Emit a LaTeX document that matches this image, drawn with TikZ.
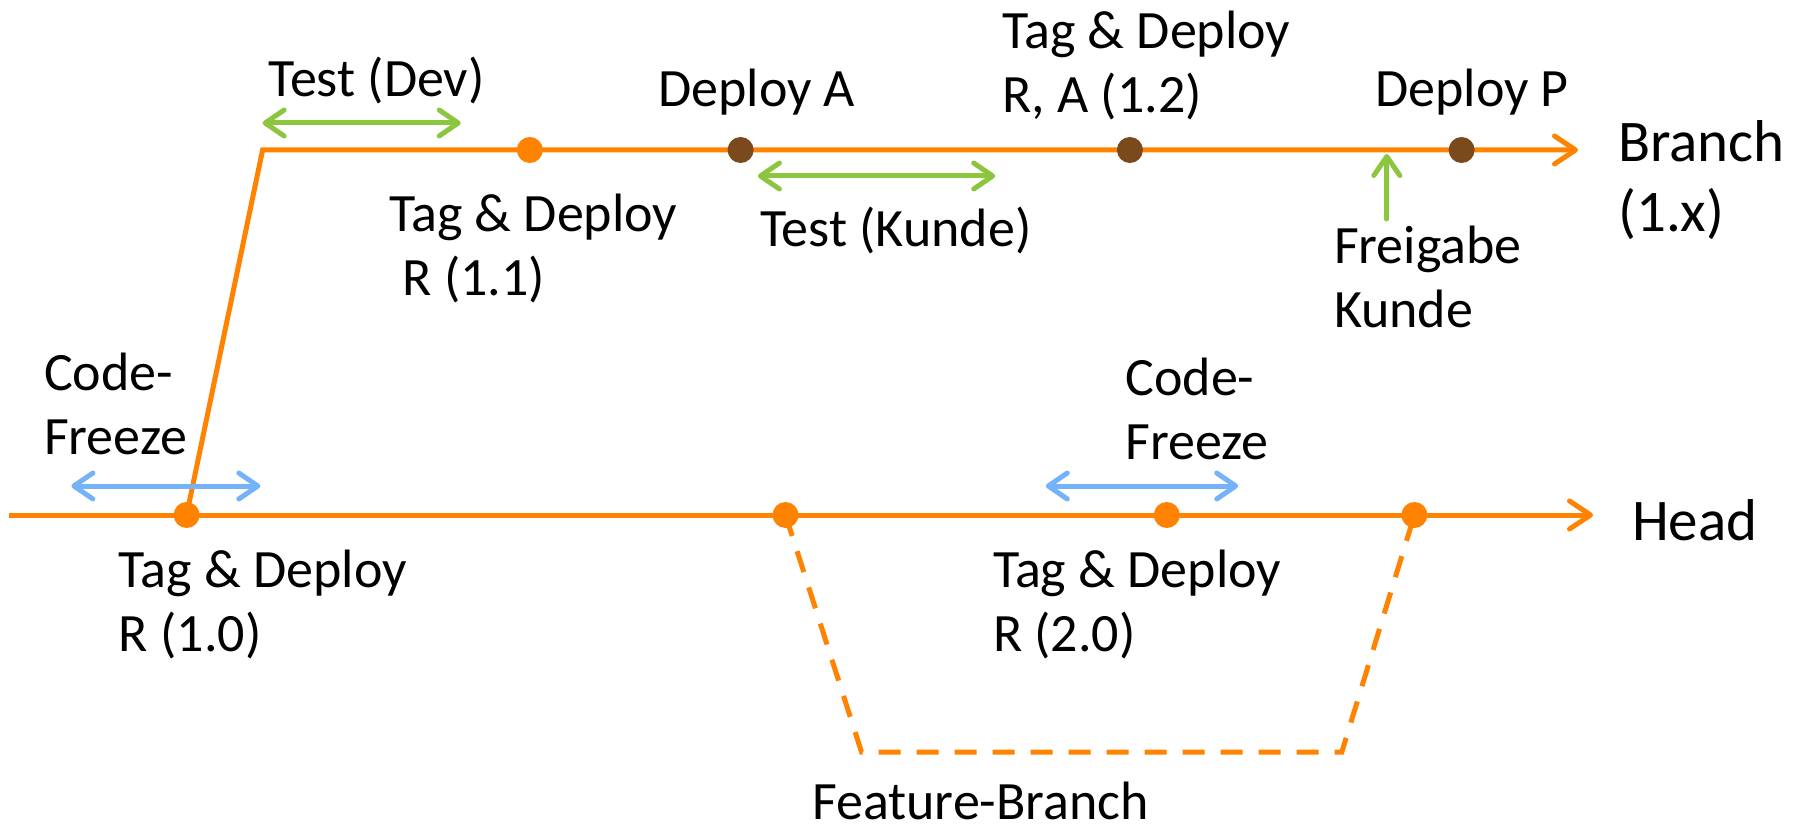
\documentclass[tikz,border=0pt]{standalone}
\usepackage{fontspec}
\setmainfont{Carlito}
\usetikzlibrary{arrows.meta,backgrounds}
\definecolor{gorange}{HTML}{FF8200}
\definecolor{gbrown}{HTML}{7A4A1C}
\definecolor{ggreen}{HTML}{8CC63E}
\definecolor{gblue}{HTML}{74B2FA}
\tikzset{
  otip/.tip={Straight Barb[length=21pt,width=28pt,round]},
  stip/.tip={Straight Barb[length=19pt,width=26pt,round]},
  mainline/.style={draw=gorange,line width=5pt},
  featline/.style={draw=gorange,line width=5pt,dash pattern=on 22pt off 16pt},
  odot/.style={circle,fill=gorange,minimum size=26pt,inner sep=0pt},
  bdot/.style={circle,fill=gbrown,minimum size=26pt,inner sep=0pt},
  garrow/.style={draw=ggreen,line width=5pt,line cap=round},
  barrow/.style={draw=gblue,line width=5pt,line cap=round},
  lbl/.style={inner sep=0pt,align=left,font=\fontsize{54}{64}\selectfont},
  biglbl/.style={inner sep=0pt,align=left,font=\fontsize{59}{70}\selectfont},
}
\begin{document}
\begin{tikzpicture}[x=1pt,y=-1pt]
\useasboundingbox (0,0) rectangle (1806,829);
% dots on Head
\node[odot] (h0) at (186.6,515) {};
\node[odot] (h1) at (785.5,515) {};
\node[odot] (h2) at (1166.8,515) {};
\node[odot] (h3) at (1414.4,515) {};
% dots on Branch
\node[odot] (b1) at (529.8,150) {};
\node[bdot] (b2) at (740.6,150) {};
\node[bdot] (b3) at (1129.9,150) {};
\node[bdot] (b4) at (1461.6,150) {};
% coordinates
\coordinate (hs) at (9,515);
\coordinate (he) at (1593,515);
\coordinate (b0) at (262.6,150);
\coordinate (be) at (1578,150);
\coordinate (f1) at (861.5,752);
\coordinate (f2) at (1341.8,752);
\begin{scope}[on background layer]
\draw[mainline,-otip] (hs) -- (he);
\draw[mainline,-otip] (h0.center) -- (b0) -- (be);
\draw[featline] (h1.center) -- (f1) -- (f2) -- (h3.center);
\end{scope}
% green arrows
\coordinate (td1) at (262.6,123);
\coordinate (td2) at (460.7,123);
\draw[garrow,stip-stip] (td1) -- (td2);
\coordinate (tk1) at (757.9,176);
\coordinate (tk2) at (995.2,176);
\draw[garrow,stip-stip] (tk1) -- (tk2);
\coordinate (fg1) at (1386.8,219);
\coordinate (fg2) at (1386.8,154);
\draw[garrow,-stip] (fg1) -- (fg2);
% blue arrows
\coordinate (cf1) at (71.4,486);
\coordinate (cf2) at (260.3,486);
\draw[barrow,stip-stip] (cf1) -- (cf2);
\coordinate (cf3) at (1045.8,486);
\coordinate (cf4) at (1238.2,486);
\draw[barrow,stip-stip] (cf3) -- (cf4);
% labels
\node[biglbl,anchor=west] (lhead) at (1632,520) {Head};
\node[biglbl,anchor=west] (lbranch) at (1618,180) {Branch\\(1.x)};
\node[lbl] (ltestdev) at (376.6,80) {Test (Dev)};
\node[lbl,anchor=west] (l11) at (389,248) {Tag \& Deploy\\\hspace{0.25em}R (1.1)};
\node[lbl] (ldepa) at (756.7,92) {Deploy A};
\node[lbl] (ltestk) at (896,230) {Test (Kunde)};
\node[lbl,anchor=west] (l12) at (1002,65) {Tag \& Deploy\\R, A (1.2)};
\node[lbl] (ldepp) at (1472,92) {Deploy P};
\node[lbl,anchor=west] (lfrei) at (1333.8,277) {Freigabe\\Kunde};
\node[lbl,anchor=west] (lcf1) at (43.8,404) {Code-\\Freeze};
\node[lbl,anchor=west] (lcf2) at (1125.3,409) {Code-\\Freeze};
\node[lbl,anchor=west] (l10) at (118.6,604) {Tag \& Deploy\\R (1.0)};
\node[lbl,anchor=west] (l20) at (992.8,604) {Tag \& Deploy\\R (2.0)};
\node[lbl,anchor=west] (lfeat) at (812,801) {Feature-Branch};
\end{tikzpicture}
\end{document}
